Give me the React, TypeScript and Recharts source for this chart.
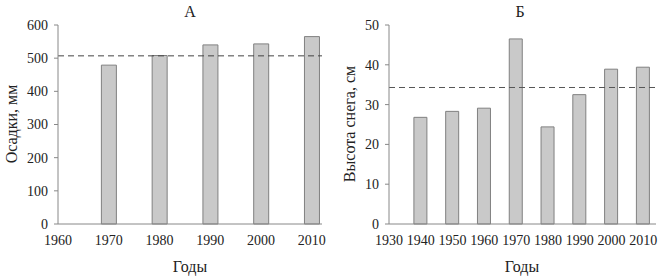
import { BarChart, Bar, XAxis, YAxis, ReferenceLine } from "recharts";

const yearsA = [1970, 1980, 1990, 2000, 2010];
const precip = [479, 508, 540, 543, 565];
const precipMean = 507;
const ticksA = [1960, 1970, 1980, 1990, 2000, 2010];
const yTicksA = [0, 100, 200, 300, 400, 500, 600];

const yearsB = [1940, 1950, 1960, 1970, 1980, 1990, 2000, 2010];
const snow = [26.8, 28.3, 29.1, 46.5, 24.4, 32.5, 38.9, 39.4];
const snowMean = 34.3;
const ticksB = [1930, 1940, 1950, 1960, 1970, 1980, 1990, 2000, 2010];
const yTicksB = [0, 10, 20, 30, 40, 50];

const dataA = yearsA.map((y, i) => ({ year: y, value: precip[i] }));
const dataB = yearsB.map((y, i) => ({ year: y, value: snow[i] }));

const FONT = "'Liberation Serif', 'Times New Roman', serif";
const tick = { fill: "#222", fontSize: 14, fontFamily: FONT };
const axisStroke = "#888";

const label = (text: string, x: number, y: number, rotate = false) => (
  <div
    style={{
      position: "absolute",
      left: x,
      top: y,
      transform: `translate(-50%, -50%)${rotate ? " rotate(-90deg)" : ""}`,
      fontFamily: FONT,
      fontSize: 16,
      color: "#222",
      whiteSpace: "nowrap",
    }}
  >
    {text}
  </div>
);

export default function App() {
  return (
    <div style={{ position: "absolute", left: 0, top: 0, width: 671, height: 276, background: "#fff" }}>
      <div style={{ position: "absolute", left: 0, top: 0 }}>
        <BarChart width={335} height={276} data={dataA} margin={{ top: 25, right: 13, bottom: 0, left: 0 }}>
          <XAxis
            dataKey="year"
            type="number"
            domain={[1960, 2012]}
            ticks={ticksA}
            interval={0}
            allowDataOverflow
            tick={tick}
            stroke={axisStroke}
            tickLine={false}
            tickSize={0}
            tickMargin={11}
            height={52}
          />
          <YAxis
            type="number"
            domain={[0, 600]}
            ticks={yTicksA}
            interval={0}
            tick={tick}
            stroke={axisStroke}
            tickSize={4}
            tickMargin={6}
            width={58}
          />
          <Bar dataKey="value" fill="#c9c9c9" stroke="#808080" barSize={15} isAnimationActive={false} />
          <ReferenceLine y={precipMean} stroke="#444" strokeDasharray="6 4" />
        </BarChart>
      </div>
      <div style={{ position: "absolute", left: 335, top: 0 }}>
        <BarChart width={336} height={276} data={dataB} margin={{ top: 25, right: 15, bottom: 0, left: 0 }}>
          <XAxis
            dataKey="year"
            type="number"
            domain={[1930, 2014]}
            ticks={ticksB}
            interval={0}
            allowDataOverflow
            tick={tick}
            stroke={axisStroke}
            tickLine={false}
            tickSize={0}
            tickMargin={11}
            height={52}
          />
          <YAxis
            type="number"
            domain={[0, 50]}
            ticks={yTicksB}
            interval={0}
            tick={tick}
            stroke={axisStroke}
            tickSize={4}
            tickMargin={6}
            width={54}
          />
          <Bar dataKey="value" fill="#c9c9c9" stroke="#808080" barSize={13} isAnimationActive={false} />
          <ReferenceLine y={snowMean} stroke="#555" strokeDasharray="6 4" />
        </BarChart>
      </div>
      {label("А", 190, 12)}
      {label("Б", 520, 12)}
      {label("Годы", 190, 267)}
      {label("Годы", 522, 267)}
      {label("Осадки, мм", 12, 124, true)}
      {label("Высота снега, см", 350, 124, true)}
    </div>
  );
}
